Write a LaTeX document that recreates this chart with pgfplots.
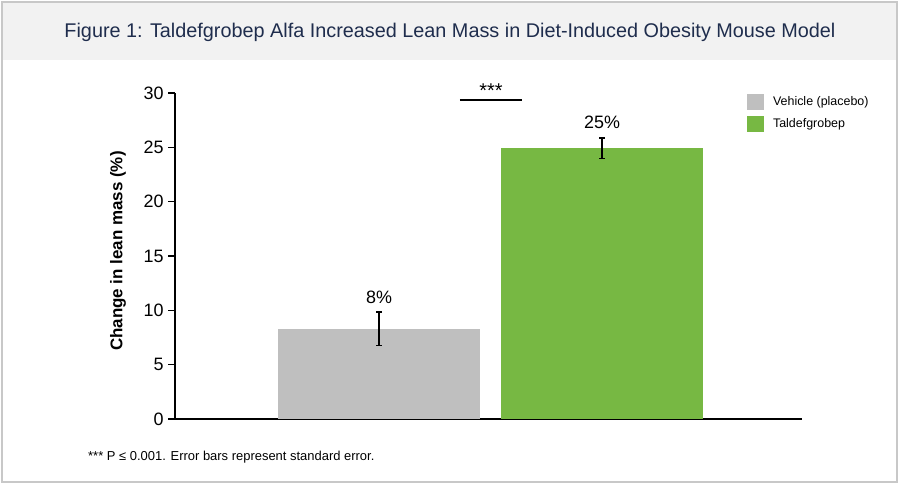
\documentclass[border=0pt]{standalone}
\usepackage{pgfplots}
\pgfplotsset{compat=1.18}
\usepackage{fontspec}
\setmainfont{Liberation Sans}

\definecolor{barGray}{HTML}{BFBFBF}
\definecolor{barGreen}{HTML}{77B843}
\definecolor{titleNavy}{HTML}{1F2D4D}
\definecolor{bandGray}{HTML}{F2F2F2}
\definecolor{frameGray}{HTML}{C8C8C8}

\begin{document}
\begin{tikzpicture}[x=1bp,y=1bp]
	% page frame and title band
	\useasboundingbox (0,0) rectangle (900,485);
	\fill[white] (0,0) rectangle (900,485);
	\fill[bandGray] (2,425) rectangle (897,483);
	\draw[frameGray, line width=1.2bp] (2,3) rectangle (897,483);
	\node[titleNavy, font=\fontsize{19.9}{23}\selectfont] at (450,453)
		{Figure 1: Taldefgrobep Alfa Increased Lean Mass in Diet-Induced Obesity Mouse Model};

	\begin{axis}[
			at={(175bp,66bp)}, anchor=south west,
			scale only axis,
			width=627bp, height=326bp,
			xmin=-0.915, xmax=1.897,
			ymin=0, ymax=30,
			ytick={0,5,...,30},
			xtick=\empty,
			axis x line*=bottom,
			axis y line*=left,
			axis line style={line width=1.6bp, -},
			ytick style={line width=1.3bp, black},
			tick align=outside,
			major tick length=7bp,
			/pgf/number format/assume math mode=true,
			tick label style={font=\fontsize{18}{20}\selectfont},
			yticklabel style={xshift=-1bp},
			ylabel={\textbf{Change in lean mass (\%)}},
			ylabel style={font=\fontsize{17}{19}\selectfont, at={(axis description cs:-0.091,0.515)}, anchor=center},
			ybar, bar width=202bp,
			clip=false,
			legend style={draw=none, fill=none, at={(axis description cs:0.912,0.998)}, anchor=north west,
				font=\fontsize{12.5}{14}\selectfont, row sep=6bp, inner sep=0pt},
			legend cell align=left,
			legend image code/.code={\fill[#1, draw=none] (0bp,-8bp) rectangle (17bp,8bp); \path (24bp,0bp);},
			error bars/error bar style={line width=1.4bp, black},
			error bars/error mark options={rotate=90, mark size=2.8bp, line width=1.2bp, black},
		]
		\addplot[fill=barGray, draw=none, bar shift=0pt,
			error bars/.cd, y dir=both, y explicit]
			coordinates {(0,8.3) +- (0,1.55)};
		\addplot[fill=barGreen, draw=none, bar shift=0pt,
			error bars/.cd, y dir=both, y explicit]
			coordinates {(1,24.9) +- (0,0.95)};
		\legend{Vehicle (placebo), Taldefgrobep}

		\node[font=\fontsize{18}{20}\selectfont] at (axis cs:0,11.2) {8\%};
		\node[font=\fontsize{18}{20}\selectfont] at (axis cs:1,27.3) {25\%};
		\draw[line width=1.5bp] (axis cs:0.363,29.35) -- (axis cs:0.641,29.35);
		\node[font=\fontsize{20}{22}\selectfont] at (axis cs:0.502,30.2) {***};
	\end{axis}

	\node[anchor=west, font=\fontsize{13}{15}\selectfont, inner sep=0pt] at (88,28)
		{*** P ≤ 0.001. Error bars represent standard error.};
\end{tikzpicture}
\end{document}
